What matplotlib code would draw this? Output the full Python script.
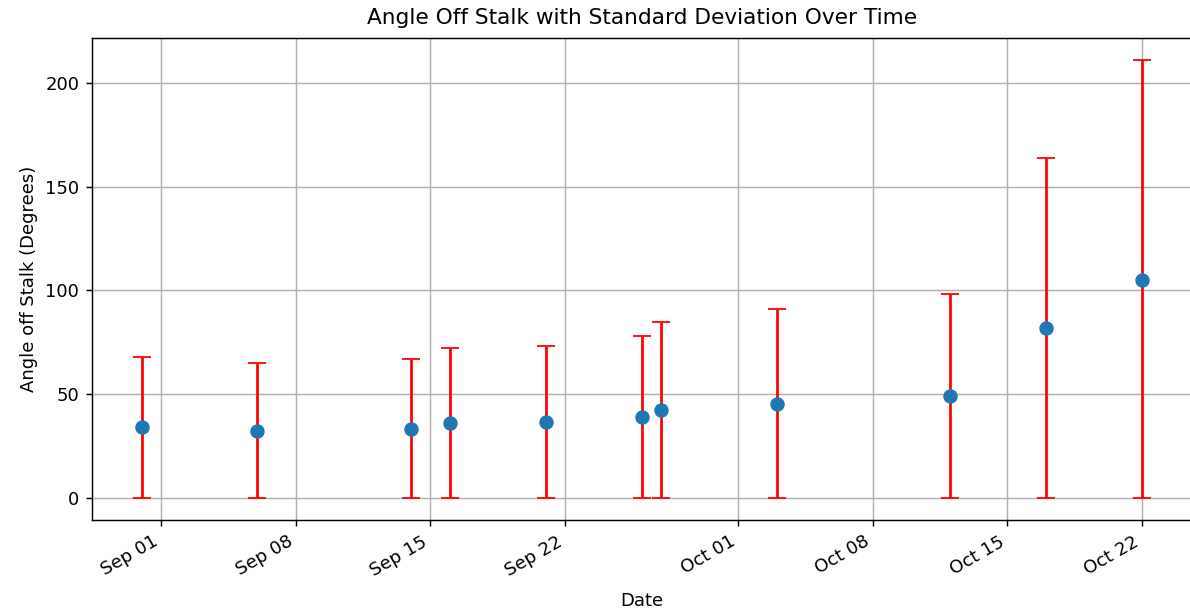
import datetime as dt
import numpy as np
import matplotlib
matplotlib.use("Agg")
import matplotlib.pyplot as plt
import matplotlib.dates as mdates

# per-day summary of angle off stalk (degrees)
dates = ["2023-08-31", "2023-09-06", "2023-09-14", "2023-09-16", "2023-09-21",
         "2023-09-26", "2023-09-27", "2023-10-03", "2023-10-12", "2023-10-17",
         "2023-10-22"]
mean_angle = [34, 32.5, 33.5, 36, 36.5, 39, 42.5, 45.5, 49, 82, 105]
std_angle = [34, 32.5, 33.5, 36.5, 36.5, 39, 42.5, 45.5, 49.5, 82, 106]

x = [dt.datetime.strptime(d, "%Y-%m-%d") for d in dates]
m = np.array(mean_angle)
s = np.array(std_angle)
lower = m - np.clip(m - s, 0, None)   # angle can't go below 0

fig = plt.figure(figsize=(1190 / 130, 613 / 130), dpi=130)
ax = fig.add_axes([92 / 1190, 1 - 520 / 613, 1100 / 1190, (520 - 38) / 613])
ax.errorbar(x, m, yerr=[lower, s], fmt="o", markersize=7, ecolor="red", capsize=5)
ax.set_title("Angle Off Stalk with Standard Deviation Over Time", pad=8)
ax.set_xlabel("Date", labelpad=7)
ax.set_ylabel("Angle off Stalk (Degrees)")
ax.xaxis.set_major_formatter(mdates.DateFormatter("%b %d"))
ax.grid(True)
for lbl in ax.get_xticklabels():
    lbl.set_rotation(30)
    lbl.set_ha("right")

fig.savefig("out.png", dpi=130)
